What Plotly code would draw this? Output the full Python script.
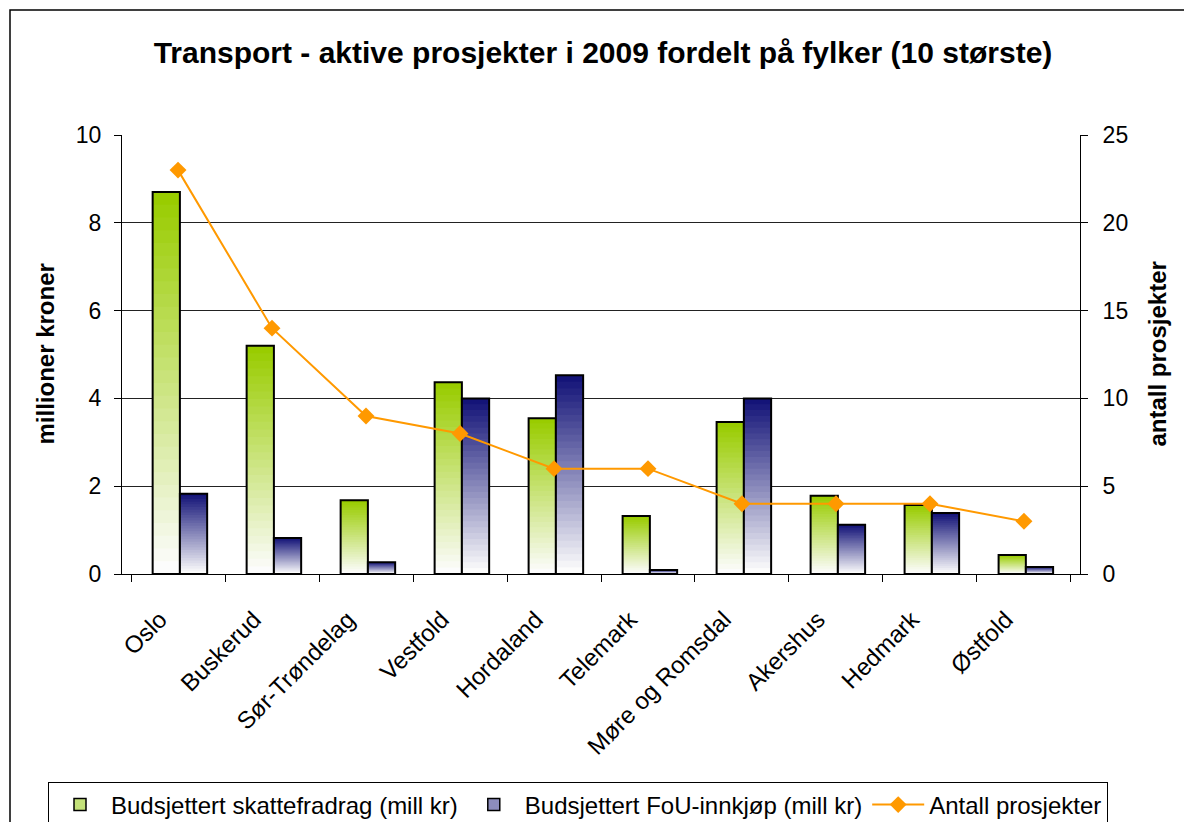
import plotly.graph_objects as go

categories = ["Oslo", "Buskerud", "Sør-Trøndelag", "Vestfold", "Hordaland",
              "Telemark", "Møre og Romsdal", "Akershus", "Hedmark", "Østfold"]
skattefradrag = [8.7, 5.2, 1.68, 4.37, 3.55, 1.32, 3.46, 1.78, 1.57, 0.43]
fou_innkjop = [1.83, 0.82, 0.27, 4.0, 4.53, 0.09, 4.0, 1.12, 1.39, 0.16]
antall_prosjekter = [23, 14, 9, 8, 6, 6, 4, 4, 4, 3]

names = ["Budsjettert skattefradrag (mill kr)", "Budsjettert FoU-innkjøp (mill kr)", "Antall prosjekter"]

GREEN_TOP = (153, 204, 0)
NAVY_TOP = (20, 20, 120)
BOTTOM = (252, 252, 252)
N_STEPS = 30
BAR_W = 0.29

# figure geometry (page has an 8px body margin; figure runs past the bottom of the window)
W, H = 1184, 840
PL, PR, PT, PB = 114, 1072, 127, 566  # plot area in figure pixels
PW, PH = PR - PL, PB - PT


def px_x(x):
    return (x - 8 - PL) / PW


def px_y(y):
    return (PB - (y - 8)) / PH


def mix(c1, c2, t):
    return "rgb(%d,%d,%d)" % tuple(round(a + (b - a) * t) for a, b in zip(c1, c2))


fig = go.Figure()


def gradient_bars(values, top, offset, name, legend_color):
    for k in range(N_STEPS):
        frac = (N_STEPS - k) / N_STEPS
        fig.add_trace(go.Bar(
            x=categories, y=[v * frac for v in values],
            offset=offset, width=BAR_W,
            marker=dict(color=mix(top, BOTTOM, k / (N_STEPS - 1)), line=dict(width=0)),
            showlegend=False, hoverinfo="skip",
        ))
    fig.add_trace(go.Bar(
        x=categories, y=values, offset=offset, width=BAR_W,
        marker=dict(color="rgba(0,0,0,0)", line=dict(color="black", width=2)),
        showlegend=False, name=name,
    ))
    fig.add_trace(go.Bar(
        x=categories, y=[None] * len(values), offset=offset, width=BAR_W,
        marker=dict(color=legend_color, line=dict(color="black", width=1.5)),
        name=name, showlegend=True,
    ))


gradient_bars(skattefradrag, GREEN_TOP, -0.27, names[0], "#c4e27a")
gradient_bars(fou_innkjop, NAVY_TOP, 0.02, names[1], "#8c8cbc")

fig.add_trace(go.Scatter(
    x=categories, y=antall_prosjekter, yaxis="y2", name=names[2],
    mode="lines+markers",
    line=dict(color="#ff9900", width=2),
    marker=dict(symbol="diamond", size=13, color="#ff9900"),
))

FONT = "Liberation Sans, Arial, sans-serif"

fig.update_layout(
    width=W, height=H,
    margin=dict(l=PL, r=W - PR, t=PT, b=H - PB),
    paper_bgcolor="white", plot_bgcolor="white",
    barmode="overlay",
    font=dict(family=FONT, size=23, color="black"),
    showlegend=True,
    title=dict(
        text="<b>Transport - aktive prosjekter i 2009 fordelt på fylker (10 største)</b>",
        x=px_x(603), xanchor="center", y=1 - (52 - 8) / H, yanchor="middle", yref="container",
        xref="paper",
        font=dict(size=30, family=FONT, color="black"),
    ),
    xaxis=dict(
        type="category", tickangle=-45, ticks="outside", tickson="boundaries",
        ticklen=7, tickcolor="black", showline=True, linecolor="black", linewidth=1,
        showgrid=False, tickfont=dict(size=24), automargin=False,
        ticklabelstandoff=21, ticklabelshift=-18,
    ),
    yaxis=dict(
        range=[0, 10], dtick=2, ticks="outside", ticklen=7, tickcolor="black",
        showline=True, linecolor="black", linewidth=1,
        showgrid=True, gridcolor="#222222", gridwidth=1,
        zeroline=False, tickfont=dict(size=23), automargin=False, ticklabelstandoff=8,
    ),
    yaxis2=dict(
        range=[0, 25], dtick=5, overlaying="y", side="right", ticks="outside",
        ticklen=7, tickcolor="black", showline=True, linecolor="black", linewidth=1,
        showgrid=False, zeroline=False, tickfont=dict(size=23), automargin=False,
        ticklabelstandoff=10,
    ),
    legend=dict(
        orientation="h", x=px_x(48), xanchor="left", y=px_y(805), yanchor="middle",
        bordercolor="black", borderwidth=1, font=dict(size=24),
        traceorder="normal", itemwidth=52,
    ),
    annotations=[
        dict(text="<b>millioner kroner</b>", textangle=-90, xref="paper", yref="paper",
             x=px_x(45), y=0.5, xanchor="center", yanchor="middle",
             showarrow=False, font=dict(size=24)),
        dict(text="<b>antall prosjekter</b>", textangle=-90, xref="paper", yref="paper",
             x=px_x(1157), y=0.5, xanchor="center", yanchor="middle",
             showarrow=False, font=dict(size=24)),
    ],
    shapes=[
        dict(type="rect", xref="paper", yref="paper",
             x0=px_x(10), x1=px_x(1198),
             y0=px_y(845), y1=px_y(10),
             line=dict(color="black", width=1.5), fillcolor="rgba(0,0,0,0)", layer="below"),
    ],
)

fig.write_html("out.html")
